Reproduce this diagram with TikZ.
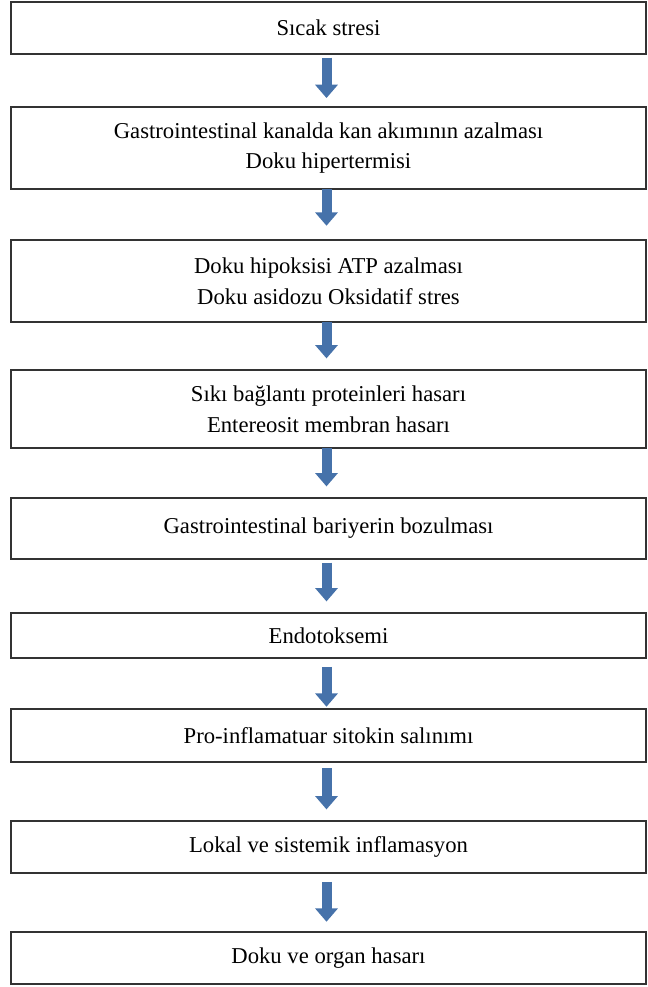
\documentclass[tikz,border=0pt]{standalone}
\usepackage{fontspec}
\setmainfont{Liberation Serif}
\usetikzlibrary{arrows.meta}
\definecolor{arrowblue}{HTML}{4672AA}
\definecolor{boxline}{HTML}{333333}
\begin{document}
\begin{tikzpicture}[x=0.75pt,y=-0.75pt,
  flowbox/.style={draw=boxline, line width=1.4pt, fill=white, rectangle,
    minimum width=635*0.75pt, inner sep=0pt, align=center,
    font=\fontsize{17}{23}\selectfont},
  bigarrow/.style={draw=arrowblue, line width=7.5pt,
    -{Triangle[width=16.5pt,length=10pt]}, shorten >=0pt}
]
\useasboundingbox (0,0) rectangle (648,987);
\node[flowbox, minimum height=52*0.75pt] (b1) at (328.5,28) {Sıcak stresi};
\node[flowbox, minimum height=82*0.75pt] (b2) at (328.5,148) {Gastrointestinal kanalda kan akımının azalması\\Doku hipertermisi};
\node[flowbox, minimum height=82*0.75pt] (b3) at (328.5,281) {Doku hipoksisi ATP  azalması\\Doku asidozu Oksidatif stres};
\node[flowbox, minimum height=78*0.75pt] (b4) at (328.5,409) {Sıkı bağlantı proteinleri hasarı\\Entereosit membran hasarı};
\node[flowbox, minimum height=61*0.75pt] (b5) at (328.5,528.5) {Gastrointestinal bariyerin bozulması};
\node[flowbox, minimum height=45*0.75pt] (b6) at (328.5,635.5) {Endotoksemi};
\node[flowbox, minimum height=53*0.75pt] (b7) at (328.5,735.5) {Pro-inflamatuar sitokin salınımı};
\node[flowbox, minimum height=52*0.75pt] (b8) at (328.5,847) {Lokal ve sistemik inflamasyon};
\node[flowbox, minimum height=52*0.75pt] (b9) at (328.5,958) {Doku ve organ hasarı};
\draw[bigarrow] ([xshift=-1.5pt,yshift=-2pt]b1.south) -- ([xshift=-1.5pt,yshift=6pt]b2.north);
\draw[bigarrow] ([xshift=-1.5pt,yshift=1pt]b2.south) -- ([xshift=-1.5pt,yshift=10pt]b3.north);
\draw[bigarrow] ([xshift=-1.5pt,yshift=1pt]b3.south) -- ([xshift=-1.5pt,yshift=8pt]b4.north);
\draw[bigarrow] ([xshift=-1.5pt,yshift=1pt]b4.south) -- ([xshift=-1.5pt,yshift=8pt]b5.north);
\draw[bigarrow] ([xshift=-1.5pt,yshift=-2pt]b5.south) -- ([xshift=-1.5pt,yshift=8pt]b6.north);
\draw[bigarrow] ([xshift=-1.5pt,yshift=-6pt]b6.south) -- ([xshift=-1.5pt,yshift=1pt]b7.north);
\draw[bigarrow] ([xshift=-1.5pt,yshift=-4pt]b7.south) -- ([xshift=-1.5pt,yshift=8pt]b8.north);
\draw[bigarrow] ([xshift=-1.5pt,yshift=-6pt]b8.south) -- ([xshift=-1.5pt,yshift=7pt]b9.north);
\end{tikzpicture}
\end{document}
